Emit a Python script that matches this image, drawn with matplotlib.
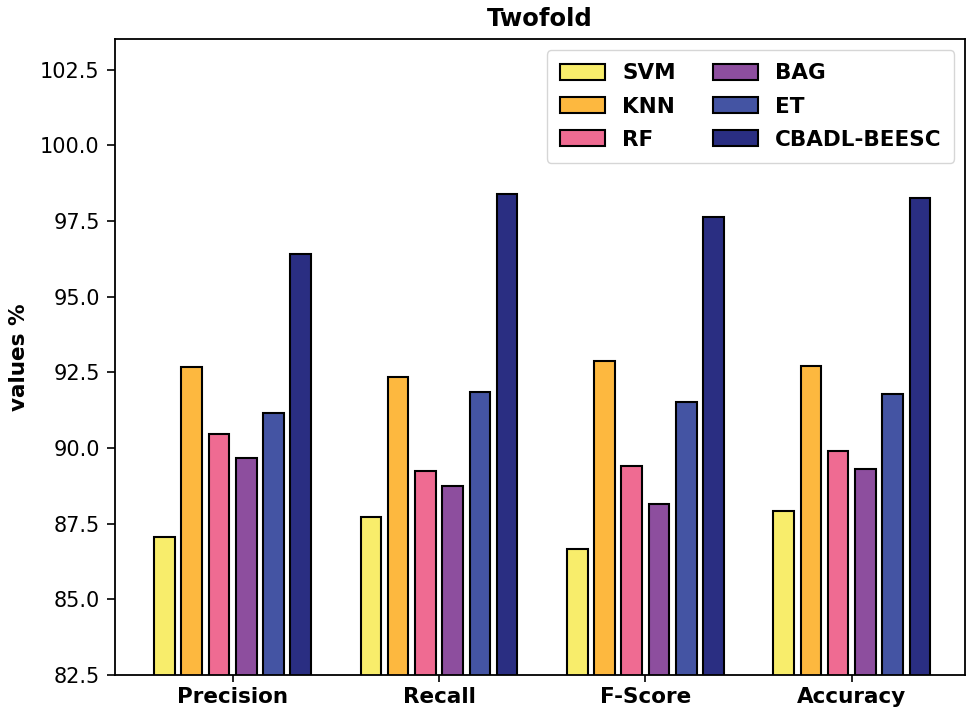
import matplotlib
matplotlib.use("Agg")
import matplotlib.pyplot as plt
import numpy as np

metrics = ["Precision", "Recall", "F-Score", "Accuracy"]
methods = ["SVM", "KNN", "RF", "BAG", "ET", "CBADL-BEESC"]
svm = [87.07, 87.73, 86.67, 87.92]
knn = [92.68, 92.35, 92.87, 92.70]
rf = [90.46, 89.24, 89.41, 89.90]
bag = [89.67, 88.75, 88.15, 89.29]
et = [91.17, 91.85, 91.52, 91.78]
cbadl = [96.41, 98.39, 97.65, 98.25]
colors = ["#f8ed6b", "#fdb83f", "#ef6b92", "#8d4e9e", "#4454a3", "#2a2e82"]

series = [svm, knn, rf, bag, et, cbadl]

fig = plt.figure(figsize=(9.75, 7.18), dpi=100)
ax = fig.add_axes([0.118, 0.06, 0.872, 0.885])
x = np.arange(len(metrics))
step = 0.132
width = 0.1
for i, (vals, name, c) in enumerate(zip(series, methods, colors)):
    ax.bar(x + (i - 2.5) * step, vals, width=width, color=c, edgecolor="black",
           linewidth=1.5, label=name, zorder=2)

ax.set_ylim(82.5, 103.5)
ax.set_xlim(-0.57, 3.55)
yt = np.arange(82.5, 103, 2.5)
ax.set_yticks(yt)
ax.set_yticklabels([f"{v:.1f}" for v in yt], fontsize=15)
ax.set_xticks(x)
ax.set_xticklabels(metrics, fontsize=15.5, fontweight="bold")
ax.tick_params(axis="y", length=6, width=1.2, pad=5)
ax.tick_params(axis="x", length=5, width=1.2, pad=4)
ax.set_ylabel("values %", fontsize=15.5, fontweight="bold", labelpad=8)
ax.set_title("Twofold", fontsize=17.5, fontweight="bold", pad=10)
for s in ax.spines.values():
    s.set_linewidth(1.3)
ax.legend(loc="upper right", ncol=2, prop={"weight": "bold", "size": 15.5},
          handlelength=2.1, handleheight=0.75, columnspacing=1.7, borderpad=0.6,
          labelspacing=0.62, handletextpad=0.8, borderaxespad=0.5)
fig.savefig("out.png", dpi=100)
